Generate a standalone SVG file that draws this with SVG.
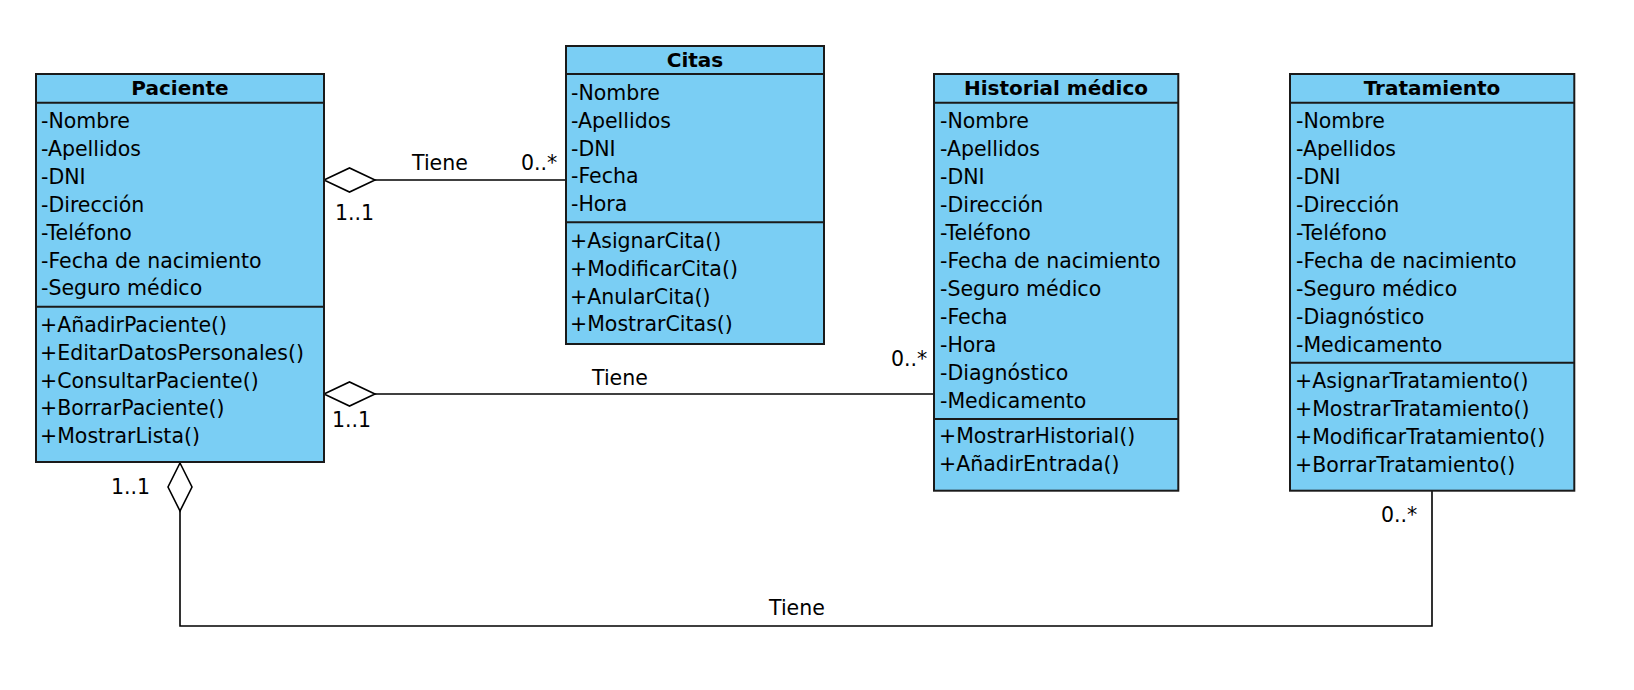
<svg xmlns="http://www.w3.org/2000/svg" width="1634" height="690" viewBox="0 0 1634 690">
<style>
.box{fill:#7ACEF4;stroke:#1a1a1a;stroke-width:2}
.sep{stroke:#1a1a1a;stroke-width:2}
.t{font-family:"DejaVu Sans",sans-serif;font-size:20.5px;fill:#000}
.h{font-family:"DejaVu Sans",sans-serif;font-size:20px;font-weight:bold;text-anchor:middle;fill:#000}
.conn{fill:none;stroke:#000;stroke-width:1.6}
.dia{fill:#fff;stroke:#000;stroke-width:1.6}
</style>
<rect width="1634" height="690" fill="#fff"/>
<g id="connectors">
<line class="conn" x1="375" y1="180" x2="566" y2="180"/>
<polygon class="dia" points="324,180 349.5,168 375,180 349.5,192"/>
<line class="conn" x1="375" y1="394" x2="934" y2="394"/>
<polygon class="dia" points="324,394 349.5,382 375,394 349.5,406"/>
<polyline class="conn" points="180,511 180,626 1432,626 1432,491"/>
<polygon class="dia" points="180,463 192,487 180,511 168,487"/>
<text class="t" x="412" y="170">Tiene</text>
<text class="t" x="521" y="170">0..*</text>
<text class="t" x="335" y="220">1..1</text>
<text class="t" x="592" y="385">Tiene</text>
<text class="t" x="891" y="366">0..*</text>
<text class="t" x="332" y="427">1..1</text>
<text class="t" x="111" y="494">1..1</text>
<text class="t" x="769" y="615">Tiene</text>
<text class="t" x="1381" y="522">0..*</text>
</g>
<g id="paciente">
<rect class="box" x="36" y="74" width="288" height="388"/>
<line class="sep" x1="36" y1="102.7" x2="324" y2="102.7"/>
<line class="sep" x1="36" y1="306.7" x2="324" y2="306.7"/>
<text class="h" x="180" y="95">Paciente</text>
<text class="t" x="41" y="128.3">-Nombre</text>
<text class="t" x="41" y="156.2">-Apellidos</text>
<text class="t" x="41" y="184">-DNI</text>
<text class="t" x="41" y="211.9">-Dirección</text>
<text class="t" x="41" y="239.7">-Teléfono</text>
<text class="t" x="41" y="267.6">-Fecha de nacimiento</text>
<text class="t" x="41" y="295.4">-Seguro médico</text>
<text class="t" x="40" y="331.7">+AñadirPaciente()</text>
<text class="t" x="40" y="359.6">+EditarDatosPersonales()</text>
<text class="t" x="40" y="387.5">+ConsultarPaciente()</text>
<text class="t" x="40" y="415.4">+BorrarPaciente()</text>
<text class="t" x="40" y="443.3">+MostrarLista()</text>
</g>
<g id="citas">
<rect class="box" x="566" y="46" width="258" height="298"/>
<line class="sep" x1="566" y1="74" x2="824" y2="74"/>
<line class="sep" x1="566" y1="222.3" x2="824" y2="222.3"/>
<text class="h" x="695" y="66.7">Citas</text>
<text class="t" x="571" y="100">-Nombre</text>
<text class="t" x="571" y="127.8">-Apellidos</text>
<text class="t" x="571" y="155.6">-DNI</text>
<text class="t" x="571" y="183.4">-Fecha</text>
<text class="t" x="571" y="211">-Hora</text>
<text class="t" x="570" y="248.3">+AsignarCita()</text>
<text class="t" x="570" y="276">+ModificarCita()</text>
<text class="t" x="570" y="303.7">+AnularCita()</text>
<text class="t" x="570" y="331.3">+MostrarCitas()</text>
</g>
<g id="historial">
<rect class="box" x="934" y="74" width="244.3" height="416.7"/>
<line class="sep" x1="934" y1="102.7" x2="1178.3" y2="102.7"/>
<line class="sep" x1="934" y1="419" x2="1178.3" y2="419"/>
<text class="h" x="1056" y="95">Historial médico</text>
<text class="t" x="940" y="128.3">-Nombre</text>
<text class="t" x="940" y="156.3">-Apellidos</text>
<text class="t" x="940" y="184.3">-DNI</text>
<text class="t" x="940" y="212.3">-Dirección</text>
<text class="t" x="940" y="240.3">-Teléfono</text>
<text class="t" x="940" y="268.3">-Fecha de nacimiento</text>
<text class="t" x="940" y="296.3">-Seguro médico</text>
<text class="t" x="940" y="324.3">-Fecha</text>
<text class="t" x="940" y="352.3">-Hora</text>
<text class="t" x="940" y="380.3">-Diagnóstico</text>
<text class="t" x="940" y="408.3">-Medicamento</text>
<text class="t" x="939" y="443.3">+MostrarHistorial()</text>
<text class="t" x="939" y="471">+AñadirEntrada()</text>
</g>
<g id="tratamiento">
<rect class="box" x="1290" y="74" width="284.3" height="416.7"/>
<line class="sep" x1="1290" y1="102.7" x2="1574.3" y2="102.7"/>
<line class="sep" x1="1290" y1="362.7" x2="1574.3" y2="362.7"/>
<text class="h" x="1432" y="95">Tratamiento</text>
<text class="t" x="1296" y="128.3">-Nombre</text>
<text class="t" x="1296" y="156.2">-Apellidos</text>
<text class="t" x="1296" y="184.1">-DNI</text>
<text class="t" x="1296" y="212">-Dirección</text>
<text class="t" x="1296" y="239.9">-Teléfono</text>
<text class="t" x="1296" y="267.8">-Fecha de nacimiento</text>
<text class="t" x="1296" y="295.7">-Seguro médico</text>
<text class="t" x="1296" y="323.6">-Diagnóstico</text>
<text class="t" x="1296" y="351.5">-Medicamento</text>
<text class="t" x="1295" y="388.3">+AsignarTratamiento()</text>
<text class="t" x="1295" y="416">+MostrarTratamiento()</text>
<text class="t" x="1295" y="444">+ModificarTratamiento()</text>
<text class="t" x="1295" y="471.7">+BorrarTratamiento()</text>
</g>
</svg>
